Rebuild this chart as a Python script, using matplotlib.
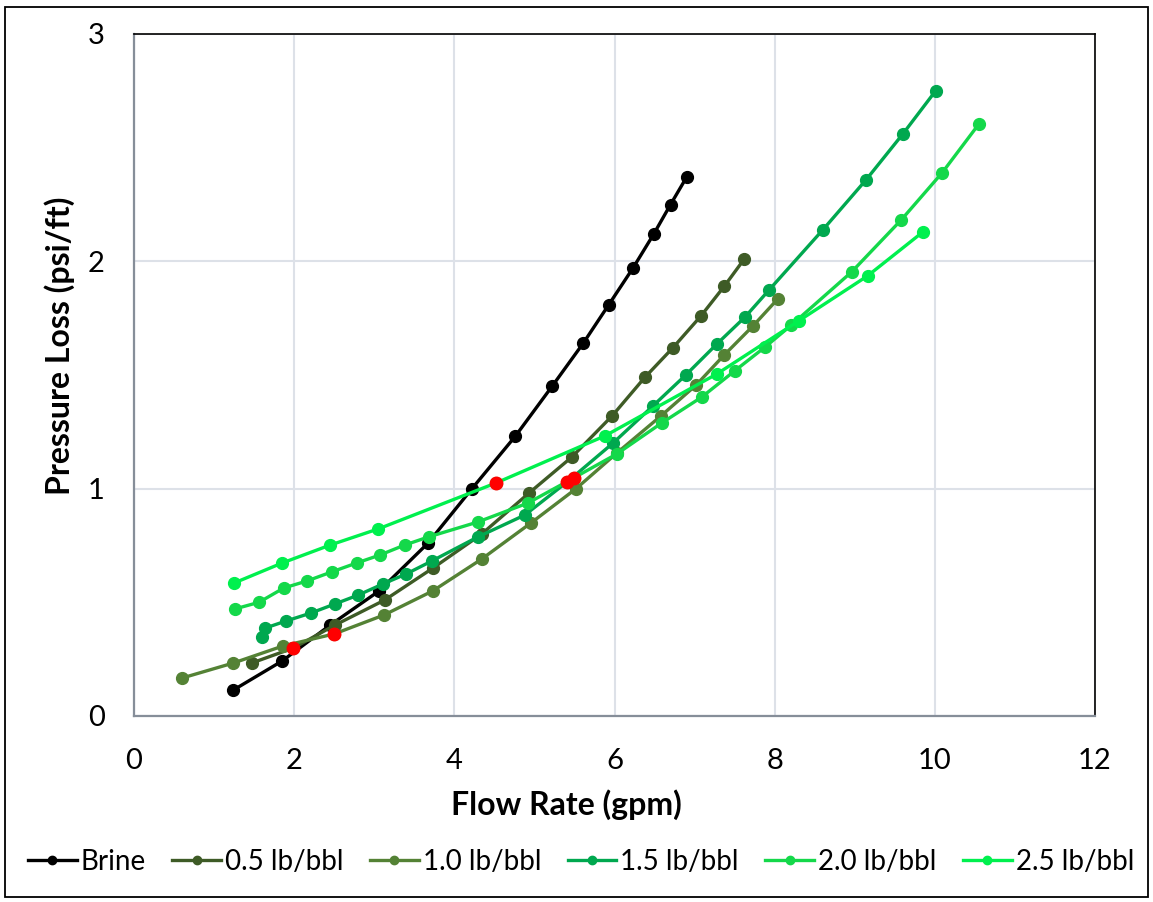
import matplotlib
matplotlib.use("Agg")
import matplotlib.pyplot as plt
from matplotlib.lines import Line2D
from matplotlib.patches import Rectangle

plt.rcParams['font.family'] = ['Lato', 'DejaVu Sans']

# Flow rate (gpm) and pressure loss (psi/ft) for each fluid
brine_q = [1.24, 1.85, 2.45, 3.06, 3.67, 4.22, 4.76, 5.22, 5.61, 5.93, 6.23, 6.49, 6.70, 6.90]
brine_p = [0.114, 0.242, 0.40, 0.55, 0.76, 1.00, 1.23, 1.45, 1.64, 1.81, 1.97, 2.12, 2.25, 2.37]

c05_q = [1.47, 1.99, 2.51, 3.13, 3.73, 4.34, 4.93, 5.47, 5.97, 6.38, 6.73, 7.08, 7.37, 7.62]
c05_p = [0.233, 0.299, 0.40, 0.51, 0.65, 0.80, 0.98, 1.14, 1.32, 1.49, 1.62, 1.76, 1.89, 2.01]

c10_q = [0.60, 1.24, 1.86, 2.50, 3.12, 3.73, 4.34, 4.96, 5.52, 6.03, 6.58, 7.02, 7.37, 7.73, 8.04]
c10_p = [0.167, 0.233, 0.308, 0.361, 0.444, 0.55, 0.69, 0.85, 1.00, 1.157, 1.32, 1.456, 1.588, 1.716, 1.835]

c15_q = [1.60, 1.64, 1.90, 2.21, 2.51, 2.80, 3.11, 3.40, 3.72, 4.29, 4.88, 5.41, 5.98, 6.48, 6.89,
         7.28, 7.63, 7.93, 8.60, 9.14, 9.60, 10.01]
c15_p = [0.348, 0.387, 0.418, 0.453, 0.493, 0.532, 0.581, 0.625, 0.682, 0.787, 0.884, 1.03, 1.20,
         1.364, 1.50, 1.637, 1.755, 1.874, 2.138, 2.358, 2.56, 2.75]

c20_q = [1.26, 1.56, 1.87, 2.16, 2.47, 2.78, 3.07, 3.38, 3.68, 4.29, 4.92, 5.49, 6.03, 6.59, 7.09,
         7.50, 7.88, 8.21, 8.96, 9.58, 10.09, 10.55]
c20_p = [0.471, 0.50, 0.563, 0.594, 0.634, 0.673, 0.708, 0.752, 0.788, 0.853, 0.937, 1.047, 1.153,
         1.289, 1.403, 1.518, 1.623, 1.72, 1.953, 2.182, 2.389, 2.604]

c25_q = [1.25, 1.85, 2.45, 3.05, 4.52, 5.88, 7.28, 8.30, 9.16, 9.85]
c25_p = [0.585, 0.673, 0.752, 0.823, 1.025, 1.232, 1.505, 1.738, 1.936, 2.129]

labels = ["Brine", "0.5 lb/bbl", "1.0 lb/bbl", "1.5 lb/bbl", "2.0 lb/bbl", "2.5 lb/bbl"]
colors = ["#000000", "#3e5b26", "#548235", "#00a84f", "#14d84a", "#00f04e"]
# index of the point highlighted in red on each curve (None = no highlight)
highlight = [None, 1, 3, 11, 11, 4]

x_ticks = [0, 2, 4, 6, 8, 10, 12]
y_ticks = [0, 1, 2, 3]

series = [(brine_q, brine_p), (c05_q, c05_p), (c10_q, c10_p),
          (c15_q, c15_p), (c20_q, c20_p), (c25_q, c25_p)]

fig = plt.figure(figsize=(11.53, 9.02), dpi=100)
ax = fig.add_axes([134 / 1153, 1 - 716 / 902, (1095 - 134) / 1153, (716 - 34) / 902])

for (q, p), lab, col, hi in zip(series, labels, colors, highlight):
    ax.plot(q, p, color=col, lw=2.4, marker='o', ms=8.5, mec=col, mfc=col, label=lab, zorder=3)
    if hi is not None:
        ax.plot([q[hi]], [p[hi]], 'o', color='#ff0000', ms=9, mec='#ff0000', zorder=4)

ax.set_xlim(0, 12)
ax.set_ylim(0, 3)
ax.set_xticks(x_ticks)
ax.set_yticks(y_ticks)
ax.tick_params(length=0, labelsize=21)
ax.tick_params(axis='x', pad=23)
ax.tick_params(axis='y', pad=21)
ax.grid(True, color='#dde1e8', lw=1.5, zorder=0)
ax.set_axisbelow(True)
for s in ['top', 'right']:
    ax.spines[s].set_color('#000000')
    ax.spines[s].set_linewidth(1.2)
for s in ['left', 'bottom']:
    ax.spines[s].set_color('#868e99')
    ax.spines[s].set_linewidth(1.6)

ax.set_xlabel("Flow Rate (gpm)", fontsize=23, fontweight='bold')
ax.set_ylabel("Pressure Loss (psi/ft)", fontsize=23, fontweight='bold')
ax.xaxis.set_label_coords(0.45, -0.1305)
ax.yaxis.set_label_coords(-0.077, 0.5425)
ax.xaxis.label.set_va('center')
ax.yaxis.label.set_va('center')

handles = [Line2D([0], [0], color=c, lw=2.4, marker='o', ms=6, mfc=c, mec=c) for c in colors]
fig.legend(handles, labels, loc='center', bbox_to_anchor=(581 / 1153, 1 - 862 / 902), ncol=6,
           frameon=False, fontsize=20, handlelength=1.75, handletextpad=0.15, columnspacing=0.95)

fig.patches.append(Rectangle((5 / 1153, 5 / 902), 1143 / 1153, 890 / 902, transform=fig.transFigure,
                             fill=False, edgecolor='#000000', lw=1.3))

fig.savefig("out.png", dpi=100, facecolor='white')
